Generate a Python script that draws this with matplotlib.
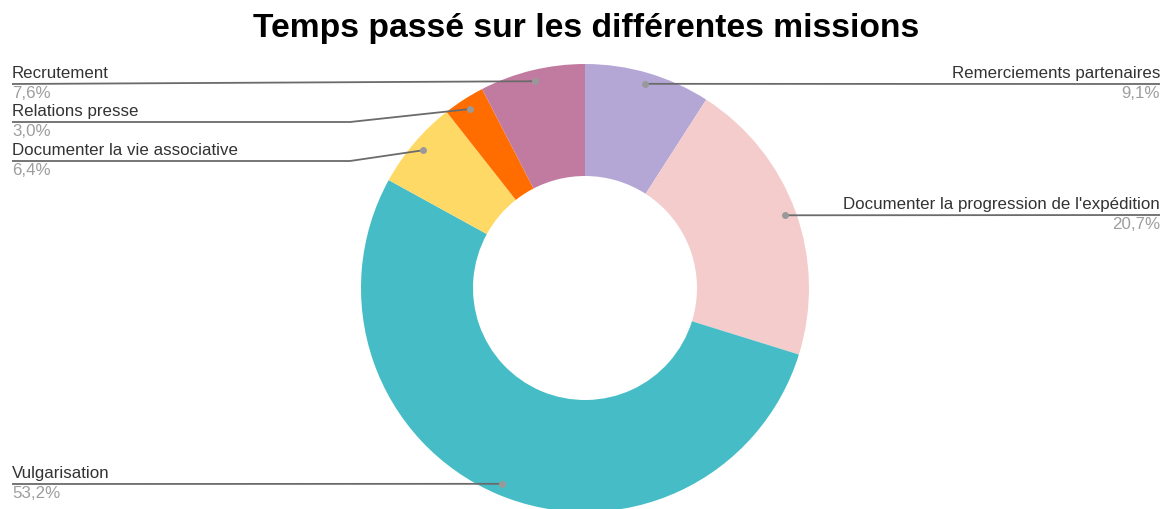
import matplotlib
matplotlib.use("Agg")
import matplotlib.pyplot as plt
import numpy as np

# ── Data ──
labels = ["Remerciements partenaires", "Documenter la progression de l'expédition",
          "Vulgarisation", "Documenter la vie associative", "Relations presse", "Recrutement"]
values = [9.1, 20.7, 53.2, 6.4, 3.0, 7.6]
colors = ["#b4a7d6", "#f4cccc", "#46bdc6", "#ffd966", "#ff6d01", "#c27ba0"]

# ── Layout (pixel coords, y measured from top) ──
W, H = 1168, 509
cx, cy, R = 585, 288, 224
label_y = [84, 215, 484, 161, 122, 84]      # y of each label's underline
side = ["R", "R", "L", "L", "L", "L"]
bend_x = [None, None, None, 350, 350, None]

plt.rcParams["font.family"] = ["Liberation Sans", "DejaVu Sans"]
fig = plt.figure(figsize=(W / 100, H / 100), dpi=100)
ax = fig.add_axes([0, 0, 1, 1])

ax.pie(values, colors=colors, startangle=90, counterclock=False,
       radius=R, center=(cx, H - cy),
       wedgeprops=dict(width=R * 0.5, linewidth=0))
ax.set_xlim(0, W)
ax.set_ylim(0, H)
ax.set_aspect("equal")
ax.axis("off")

fig.text(586 / W, 1 - 28 / H, "Temps passé sur les différentes missions",
         ha="center", va="center", fontsize=24.2, fontweight="bold", color="#000000")

# ── Leader lines and labels ──
cum = np.cumsum([0] + values[:-1])
total = sum(values)
line_col = "#6b6b6b"
for i, (lab, v) in enumerate(zip(labels, values)):
    mid = (cum[i] + v / 2) / total * 2 * np.pi
    dx = cx + 0.95 * R * np.sin(mid)
    dy = cy - 0.95 * R * np.cos(mid)
    ly = label_y[i]
    pct = f"{v:.1f}%".replace(".", ",")
    if side[i] == "R":
        xs, ys = [dx, 1160], [dy, ly]
        tx, ha = 1160, "right"
    else:
        if bend_x[i] is not None:
            xs, ys = [12, bend_x[i], dx], [ly, ly, dy]
        else:
            xs, ys = [12, dx], [ly, dy]
        tx, ha = 12, "left"
    ax.plot(xs, [H - y for y in ys], color=line_col, lw=1.3, solid_capstyle="butt")
    ax.plot([dx], [H - dy], "o", color="#999999", ms=5, mec="none")
    ax.text(tx, H - ly + 3, lab, ha=ha, va="bottom", fontsize=12.2, color="#333333")
    ax.text(tx, H - ly - 2, pct, ha=ha, va="top", fontsize=12.2, color="#9e9e9e")

fig.savefig("out.png", dpi=100)
